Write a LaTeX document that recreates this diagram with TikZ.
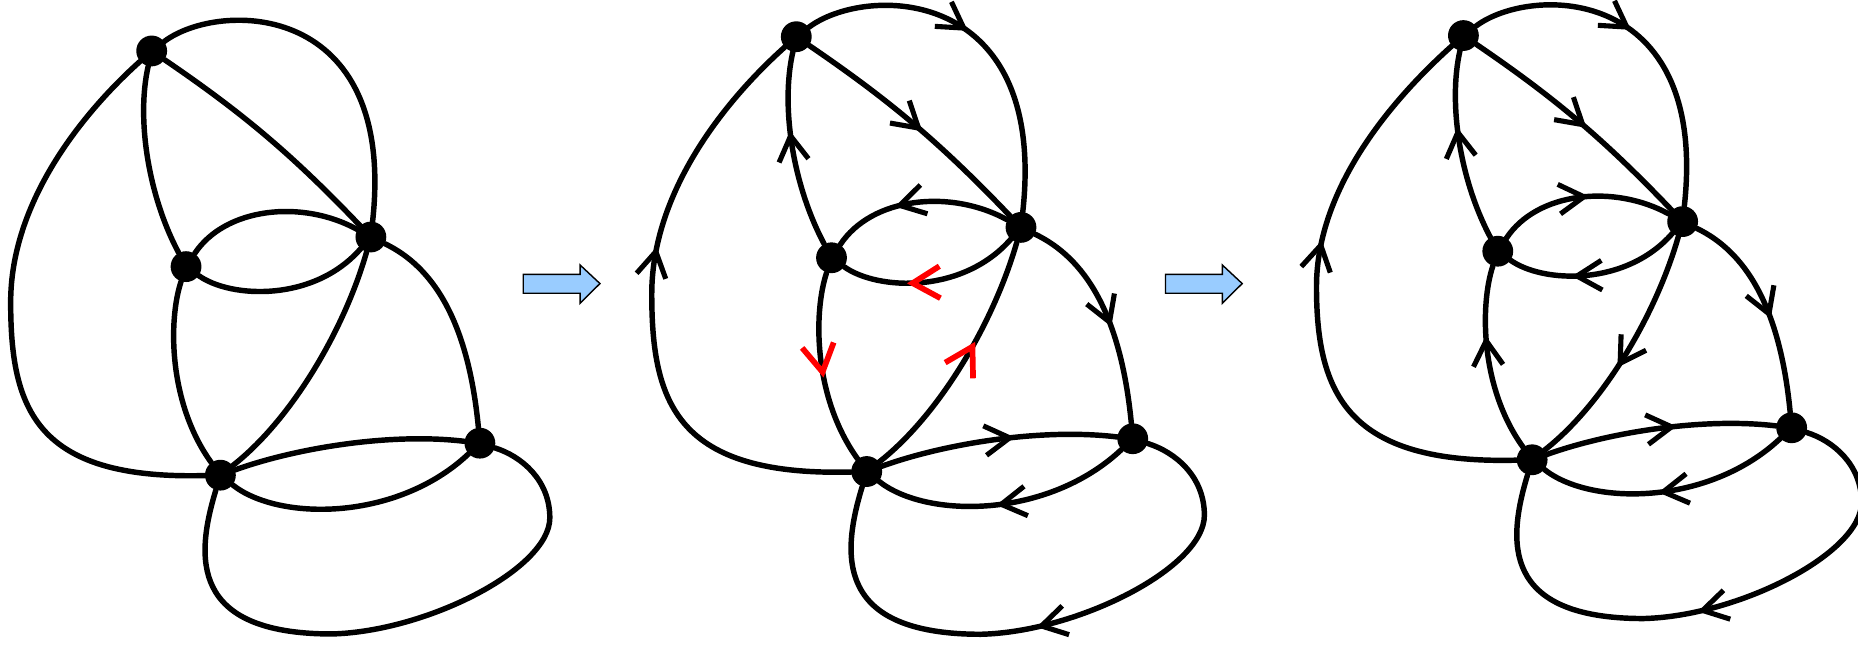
\documentclass[tikz,border=0pt]{standalone}
\definecolor{arrowblue}{RGB}{153,204,255}
\tikzset{
  dot/.style={circle, fill=black, draw=none, inner sep=0pt, minimum size=26pt},
  gedge/.style={draw=black, line width=4.6pt, line cap=round, line join=round},
  chevline/.style={draw, line width=4.3pt, line cap=butt, line join=miter},
  chevat/.style={pos=#1, sloped, allow upside down},
  pics/fwd/.style={code={\draw[chevline, black] (-21pt,12.5pt) -- (0pt,0pt) -- (-21pt,-12.5pt);}},
  pics/bwd/.style={code={\draw[chevline, black] (21pt,12.5pt) -- (0pt,0pt) -- (21pt,-12.5pt);}},
  pics/rfwd/.style={code={\draw[chevline, red, line width=4.8pt] (-23pt,13.5pt) -- (0pt,0pt) -- (-23pt,-13.5pt);}},
  pics/rbwd/.style={code={\draw[chevline, red, line width=4.8pt] (23pt,13.5pt) -- (0pt,0pt) -- (23pt,-13.5pt);}},
  blockarrow/.style={draw=black, line width=1.2pt, fill=arrowblue, line join=miter},
}
\begin{document}
\begin{tikzpicture}[x=1pt, y=-1pt]
\useasboundingbox (0,0) rectangle (1568,544);

% ---------- panel 1 ----------
\begin{scope}
\node[dot] (p1A) at (128,43) {};
\node[dot] (p1B) at (157,225) {};
\node[dot] (p1C) at (313,200) {};
\node[dot] (p1D) at (186,401) {};
\node[dot] (p1E) at (405,374) {};
\draw[gedge] (p1A) .. controls (185,0) and (335,0) .. (p1C);
\draw[gedge] (p1A) .. controls (206.5,96.5) and (247.3,131.3) .. (p1C);
\draw[gedge] (p1A) .. controls (115,100) and (125,165) .. (p1B);
\draw[gedge] (p1A) .. controls (70,95) and (9,170) .. (9,255) .. controls (9,345) and (30,405) .. (p1D);
\draw[gedge] (p1B) .. controls (190,175) and (255,168) .. (p1C);
\draw[gedge] (p1B) .. controls (195,252) and (265,255) .. (p1C);
\draw[gedge] (p1B) .. controls (142,270) and (142,340) .. (p1D);
\draw[gedge] (p1C) .. controls (290,280) and (245,355) .. (p1D);
\draw[gedge] (p1C) .. controls (365,225) and (395,270) .. (p1E);
\draw[gedge] (p1D) .. controls (250,378) and (330,365) .. (p1E);
\draw[gedge] (p1D) .. controls (235,440) and (335,440) .. (p1E);
\draw[gedge] (p1D) .. controls (165,470) and (160,535) .. (280,535) .. controls (360,533) and (464,480) .. (464,437) .. controls (464,405) and (440,385) .. (p1E);
\end{scope}

% ---------- block arrows ----------
\draw[blockarrow] (441.6,231.5) -- (489.5,231.5) -- (489.5,223.6) -- (506.3,239.3) -- (489.5,256) -- (489.5,247.5) -- (441.6,247.5) -- cycle;
\draw[blockarrow] (983.6,231.5) -- (1031.5,231.5) -- (1031.5,223.6) -- (1048.3,239.3) -- (1031.5,256) -- (1031.5,247.5) -- (983.6,247.5) -- cycle;

% ---------- panel 2 ----------
\begin{scope}[shift={(540.8,-13.1)}, scale=1.025]
\node[dot] (p2A) at (128,43) {};
\node[dot] (p2B) at (157,225) {};
\node[dot] (p2C) at (313,200) {};
\node[dot] (p2D) at (186,401) {};
\node[dot] (p2E) at (405,374) {};
\draw[gedge] (p2A) .. controls (185,0) and (335,0) .. (p2C) pic[chevat=0.56]{fwd};
\draw[gedge] (p2A) .. controls (206.5,96.5) and (247.3,131.3) .. (p2C) pic[chevat=0.52]{fwd};
\draw[gedge] (p2A) .. controls (115,100) and (125,165) .. (p2B) pic[chevat=0.45]{bwd};
\draw[gedge] (p2A) .. controls (70,95) and (9,170) .. (9,255) pic[chevat=0.86]{bwd} .. controls (9,345) and (30,405) .. (p2D);
\draw[gedge] (p2B) .. controls (190,175) and (255,168) .. (p2C) pic[chevat=0.42]{bwd};
\draw[gedge] (p2B) .. controls (195,252) and (265,255) .. (p2C) pic[chevat=0.45]{rbwd};
\draw[gedge] (p2B) .. controls (142,270) and (142,340) .. (p2D) pic[chevat=0.57]{rfwd};
\draw[gedge] (p2C) .. controls (290,280) and (245,355) .. (p2D) pic[chevat=0.42]{rbwd};
\draw[gedge] (p2C) .. controls (365,225) and (395,270) .. (p2E) pic[chevat=0.63]{fwd};
\draw[gedge] (p2D) .. controls (250,378) and (330,365) .. (p2E) pic[chevat=0.56]{fwd};
\draw[gedge] (p2D) .. controls (235,440) and (335,440) .. (p2E) pic[chevat=0.54]{bwd};
\draw[gedge] (p2D) .. controls (165,470) and (160,535) .. (280,535) .. controls (360,533) and (464,480) .. (464,437) pic[chevat=0.2]{bwd} .. controls (464,405) and (440,385) .. (p2E);
\end{scope}

% ---------- panel 3 ----------
\begin{scope}[shift={(1107,-13)}]
\node[dot] (p3A) at (128,43) {};
\node[dot] (p3B) at (157,225) {};
\node[dot] (p3C) at (313,200) {};
\node[dot] (p3D) at (186,401) {};
\node[dot] (p3E) at (405,374) {};
\draw[gedge] (p3A) .. controls (185,0) and (335,0) .. (p3C) pic[chevat=0.56]{fwd};
\draw[gedge] (p3A) .. controls (206.5,96.5) and (247.3,131.3) .. (p3C) pic[chevat=0.52]{fwd};
\draw[gedge] (p3A) .. controls (115,100) and (125,165) .. (p3B) pic[chevat=0.45]{bwd};
\draw[gedge] (p3A) .. controls (70,95) and (4,170) .. (4,255) pic[chevat=0.86]{bwd} .. controls (4,345) and (30,405) .. (p3D);
\draw[gedge] (p3B) .. controls (190,175) and (255,168) .. (p3C) pic[chevat=0.53]{fwd};
\draw[gedge] (p3B) .. controls (195,252) and (265,255) .. (p3C) pic[chevat=0.45]{bwd};
\draw[gedge] (p3B) .. controls (142,270) and (142,340) .. (p3D) pic[chevat=0.46]{bwd};
\draw[gedge] (p3C) .. controls (290,280) and (245,355) .. (p3D) pic[chevat=0.53]{fwd};
\draw[gedge] (p3C) .. controls (365,225) and (395,270) .. (p3E) pic[chevat=0.63]{fwd};
\draw[gedge] (p3D) .. controls (250,378) and (330,365) .. (p3E) pic[chevat=0.56]{fwd};
\draw[gedge] (p3D) .. controls (235,440) and (335,440) .. (p3E) pic[chevat=0.54]{bwd};
\draw[gedge] (p3D) .. controls (165,470) and (160,535) .. (280,535) .. controls (360,533) and (464,480) .. (464,437) pic[chevat=0.2]{bwd} .. controls (464,405) and (440,385) .. (p3E);
\end{scope}
\end{tikzpicture}
\end{document}
